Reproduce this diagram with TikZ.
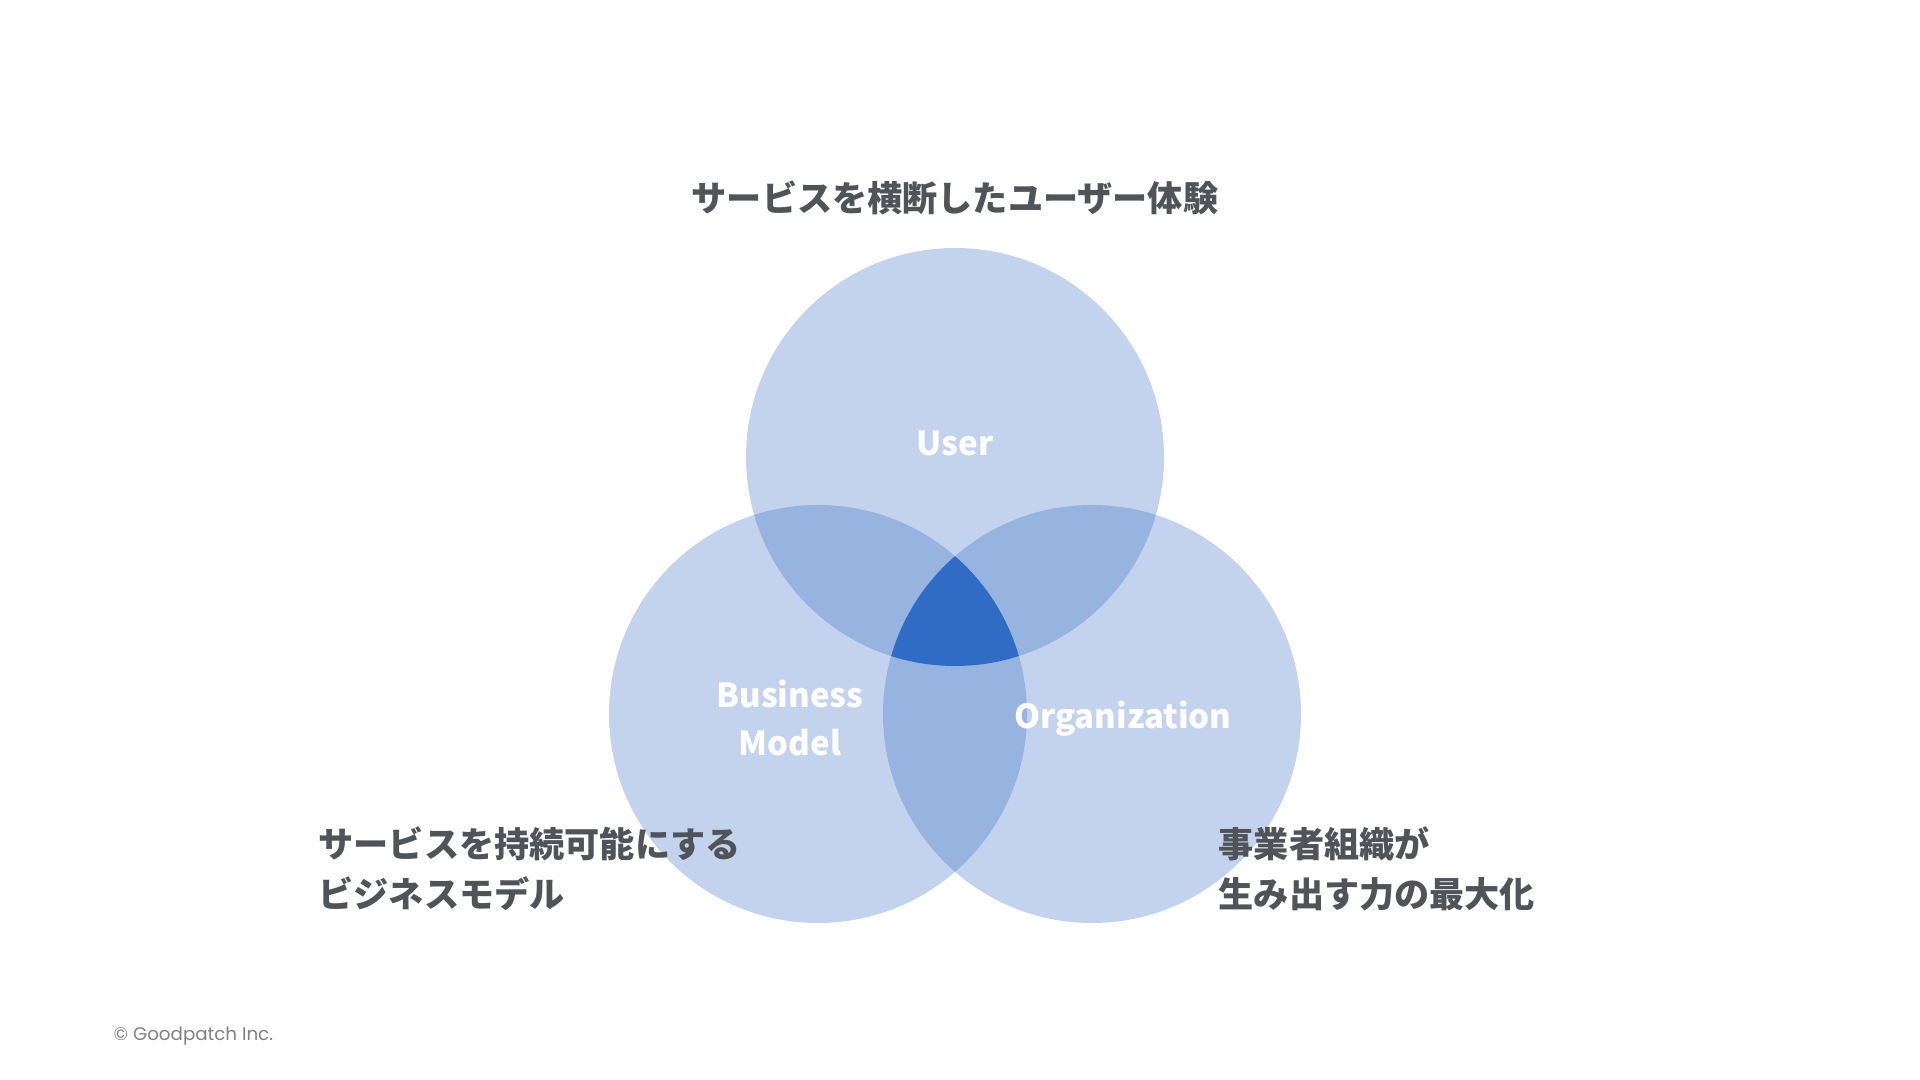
\documentclass[tikz,border=0pt]{standalone}
\usepackage{fontspec}
\usepackage{xcolor}
\usepackage{tikz}
\usetikzlibrary{positioning}
\newfontfamily\jpfont{Noto Sans CJK JP}
\newfontfamily\creditfont{Poppins}
\definecolor{textgray}{RGB}{80,83,88}
\definecolor{creditgray}{RGB}{128,128,128}
\definecolor{vennone}{RGB}{195,211,238}
\definecolor{venntwo}{RGB}{151,179,224}
\definecolor{vennthree}{RGB}{48,108,198}
\newcommand{\vennr}{2.09}

\begin{document}
\begin{tikzpicture}[
  heading/.style={font=\jpfont\bfseries\fontsize{10}{14.2}\selectfont,
                  text=textgray, inner sep=0pt, align=left},
  setlabel/.style={font=\jpfont\bfseries\fontsize{9.4}{13.9}\selectfont,
                   text=white, inner sep=0pt, align=center},
  credit/.style={font=\creditfont\fontsize{5.2}{6.5}\selectfont,
                 text=creditgray, inner sep=0pt},
]
\useasboundingbox (0,0) rectangle (19.2,10.8);

% Set centres
\coordinate (usr) at (9.55, 6.23);
\coordinate (biz) at (8.18, 3.66);
\coordinate (org) at (10.92, 3.66);

% Circles
\foreach \c in {usr, biz, org}
  \fill[vennone] (\c) circle (\vennr);

% Overlaps of two
\begin{scope}
  \clip (usr) circle (\vennr);
  \fill[venntwo] (biz) circle (\vennr);
  \fill[venntwo] (org) circle (\vennr);
\end{scope}
\begin{scope}
  \clip (biz) circle (\vennr);
  \fill[venntwo] (org) circle (\vennr);
\end{scope}

% Overlap of all three
\begin{scope}
  \clip (usr) circle (\vennr);
  \clip (biz) circle (\vennr);
  \fill[vennthree] (org) circle (\vennr);
\end{scope}

% Set labels
\node[setlabel] (usrlabel) at (9.55, 6.37) {User};
\node[setlabel] (bizlabel) at (7.90, 3.62) {Business\\Model};
\node[setlabel] (orglabel) at (11.23, 3.61) {Organization};

% Headings
\node[heading] (usrhead) at (9.55, 8.82) {サービスを横断したユーザー体験};
\node[heading, anchor=west] (bizhead) at (3.18, 2.11) {サービスを持続可能にする\\ビジネスモデル};
\node[heading, anchor=west] (orghead) at (12.18, 2.11) {事業者組織が\\生み出す力の最大化};

% Credit
\node[credit, anchor=west] (copy) at (1.13, 0.44) {© Goodpatch Inc.};

\end{tikzpicture}
\end{document}
